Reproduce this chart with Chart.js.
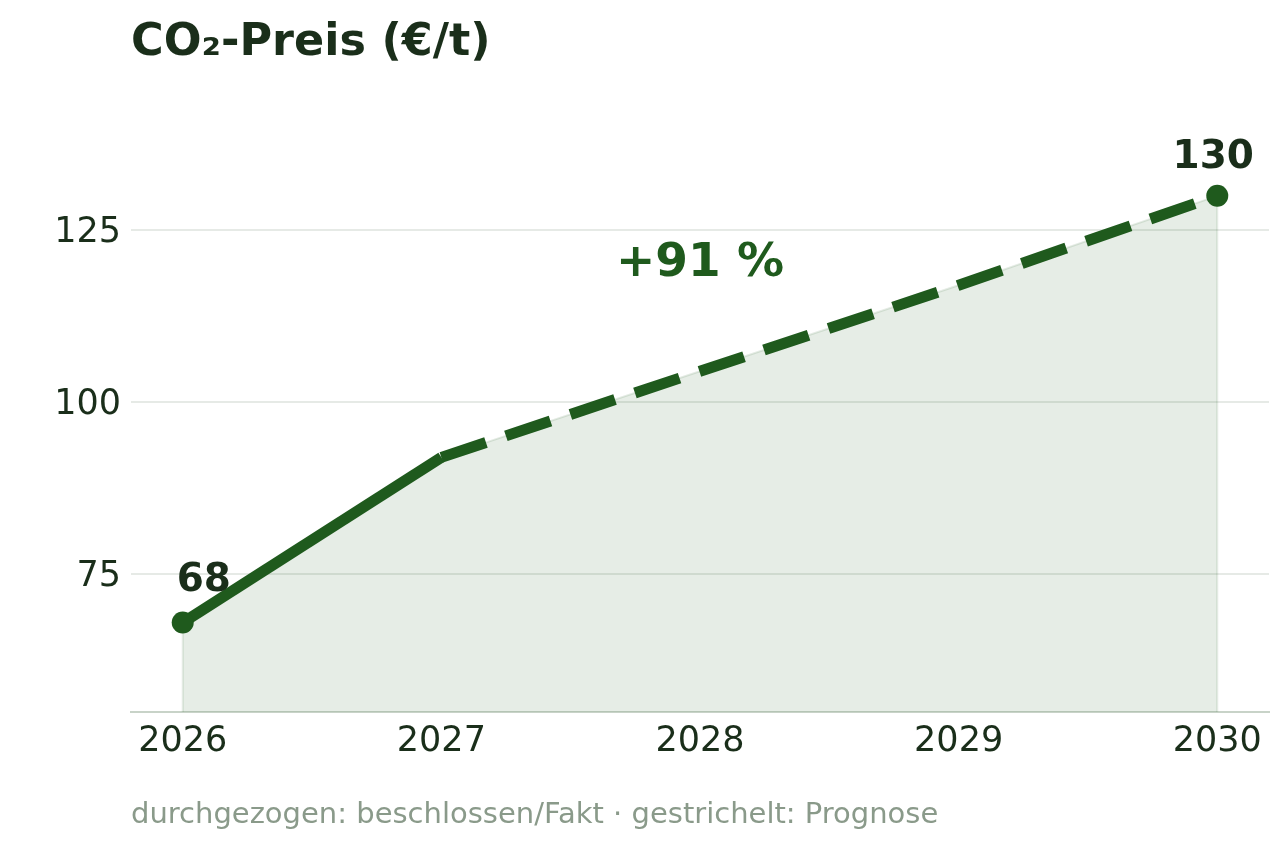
<!DOCTYPE html>
<html><head><meta charset="utf-8">
<script src="https://cdn.jsdelivr.net/npm/chart.js@4/dist/chart.umd.min.js"></script>
<style>html,body{margin:0;padding:0;background:#fff;}#wrap{width:1288px;height:849px;position:relative;}</style>
</head><body><div id="wrap"><canvas id="c" width="1288" height="849"></canvas></div>
<script>
const years = [2026, 2027, 2028, 2029, 2030];
const prices = [68, 92, 104.5, 117, 130];
const yTicks = [75, 100, 125];
const titleText = 'CO₂-Preis (€/t)';
const changeLabel = '+91 %';
const footerText = 'durchgezogen: beschlossen/Fakt · gestrichelt: Prognose';

const GREEN = '#1f5a1d';
const DARK = '#1a2e1a';
const FONT = "'DejaVu Sans', sans-serif";

const linePts = years.map((x, i) => ({x, y: prices[i]}));
const fillPts = [{x: years[0], y: 55}, ...linePts, {x: years[years.length - 1], y: 55}];

const textPlugin = {
  id: 'texts',
  afterDatasetsDraw(chart) {
    const {ctx, scales: {x, y}} = chart;
    ctx.save();
    ctx.fillStyle = DARK;
    ctx.textBaseline = 'alphabetic';
    ctx.font = `bold 44.5px ${FONT}`;
    ctx.textAlign = 'left';
    ctx.fillText(titleText, 131, 55);
    ctx.font = `bold 39px ${FONT}`;
    ctx.textAlign = 'left';
    ctx.fillText(String(prices[0]), x.getPixelForValue(years[0]) - 6, y.getPixelForValue(prices[0]) - 32);
    ctx.textAlign = 'center';
    ctx.fillText(String(prices[prices.length - 1]), x.getPixelForValue(years[years.length - 1]) - 4, y.getPixelForValue(prices[prices.length - 1]) - 28);
    ctx.fillStyle = GREEN;
    ctx.font = `bold 47px ${FONT}`;
    ctx.fillText(changeLabel, x.getPixelForValue(2028), y.getPixelForValue(118.4));
    ctx.fillStyle = '#8a9a8a';
    ctx.font = `29px ${FONT}`;
    ctx.textAlign = 'left';
    ctx.fillText(footerText, 131, 823);
    ctx.restore();
  }
};

new Chart(document.getElementById('c'), {
  type: 'line',
  data: {
    datasets: [
      {
        data: fillPts,
        borderColor: 'rgba(31,90,29,0.12)',
        borderWidth: 2,
        backgroundColor: 'rgba(31,90,29,0.11)',
        fill: 'origin',
        pointRadius: 0,
        tension: 0,
        order: 2
      },
      {
        data: linePts,
        borderColor: GREEN,
        borderWidth: 11,
        borderCapStyle: 'butt',
        borderJoinStyle: 'round',
        fill: false,
        tension: 0,
        pointRadius: [11, 0, 0, 0, 11],
        pointBackgroundColor: GREEN,
        pointBorderWidth: 0,
        segment: {
          borderDash: c => c.p0DataIndex >= 1 ? [47, 21] : undefined
        },
        order: 1
      }
    ]
  },
  options: {
    responsive: false,
    animation: false,
    layout: {padding: {top: 127, right: 19, left: 0, bottom: 0}},
    plugins: {legend: {display: false}, tooltip: {enabled: false}, title: {display: false}},
    scales: {
      x: {
        type: 'linear',
        min: 2025.8,
        max: 2030.2,
        afterBuildTicks: s => { s.ticks = years.map(v => ({value: v})); },
        afterFit: s => { s.height = 137; },
        grid: {display: false, drawTicks: false},
        border: {display: true, color: '#c8d3c8', width: 2},
        ticks: {
          font: {family: FONT, size: 35},
          color: DARK,
          padding: 9,
          maxRotation: 0,
          callback: v => String(v)
        }
      },
      y: {
        min: 55,
        max: 140,
        afterBuildTicks: s => { s.ticks = yTicks.map(v => ({value: v})); },
        afterFit: s => { s.width = 131; },
        grid: {color: '#e6eae6', lineWidth: 2, drawTicks: false},
        border: {display: false},
        ticks: {
          font: {family: FONT, size: 35},
          color: DARK,
          padding: 10,
          labelOffset: 3
        }
      }
    }
  },
  plugins: [textPlugin]
});
</script>
</body></html>
